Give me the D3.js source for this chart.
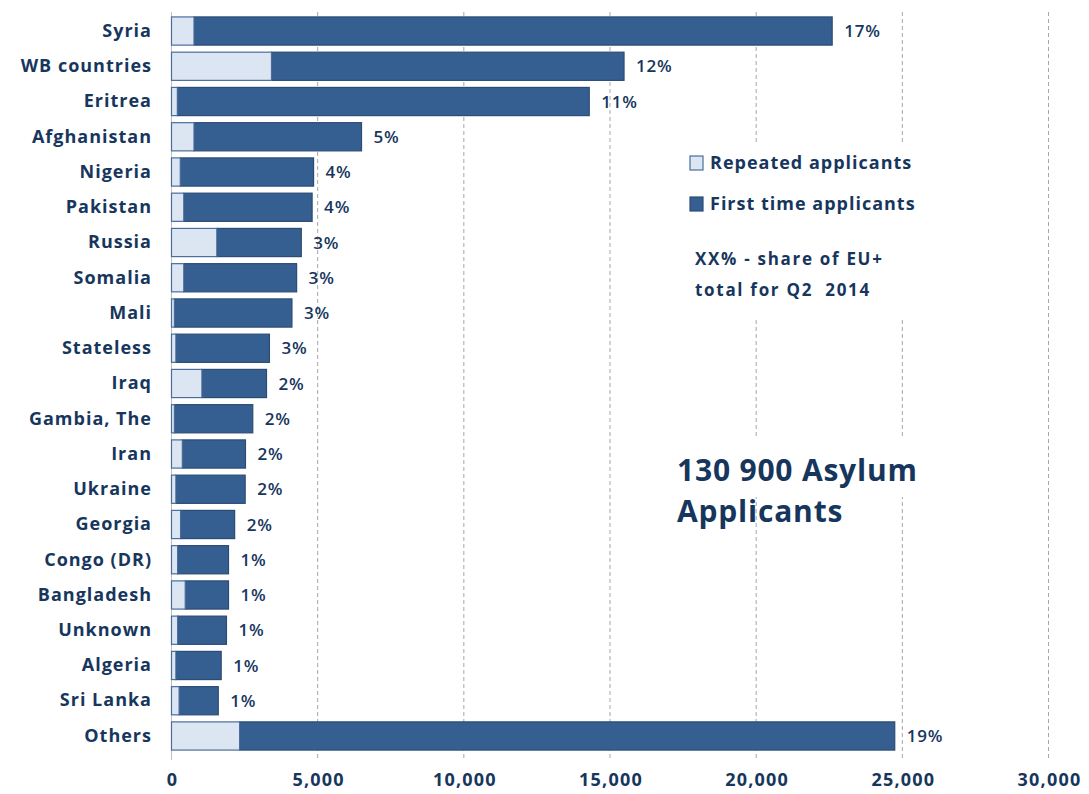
<!DOCTYPE html>
<html>
<head>
<meta charset="utf-8">
<script src="https://cdn.jsdelivr.net/npm/d3@7/dist/d3.min.js"></script>
<style>
  html, body { margin: 0; padding: 0; background: #fff; }
  svg { display: block; }
  text { font-family: "Open Sans", Lato, sans-serif; }
</style>
</head>
<body>
<svg id="chart" width="1089" height="794"></svg>
<script>
// Asylum applicants in EU+, Q2 2014, by country of origin
const categories = ["Syria", "WB countries", "Eritrea", "Afghanistan", "Nigeria", "Pakistan",
  "Russia", "Somalia", "Mali", "Stateless", "Iraq", "Gambia, The", "Iran", "Ukraine",
  "Georgia", "Congo (DR)", "Bangladesh", "Unknown", "Algeria", "Sri Lanka", "Others"];
const repeated = [770, 3420, 200, 770, 300, 420, 1550, 420, 100, 150, 1040, 100, 370, 150,
  310, 210, 470, 210, 150, 260, 2330];
const firstTime = [21830, 12060, 14090, 5730, 4560, 4390, 2890, 3860, 4020, 3200, 2210, 2680,
  2160, 2370, 1850, 1740, 1480, 1670, 1550, 1340, 22410];
const shares = ["17%", "12%", "11%", "5%", "4%", "4%", "3%", "3%", "3%", "3%", "2%", "2%",
  "2%", "2%", "2%", "1%", "1%", "1%", "1%", "1%", "19%"];
const xTicks = [0, 5000, 10000, 15000, 20000, 25000, 30000];
const seriesNames = ["Repeated applicants", "First time applicants"];

const navy = "#17365d";
const darkFill = "#365f91", darkStroke = "#2b4c74";
const lightFill = "#dce6f2", lightStroke = "#4a6d9b";

const svg = d3.select("#chart");

const x = d3.scaleLinear().domain([0, 30000]).range([171.5, 1048.5]);
const y = d3.scaleBand().domain(categories).range([13.4, 753.6])
  .paddingInner(0.2).paddingOuter(0.1);

const gridTop = 12, gridBottom = 760;

// dashed vertical gridlines
svg.append("g").selectAll("line")
  .data(xTicks.slice(1))
  .join("line")
  .attr("x1", d => x(d)).attr("x2", d => x(d))
  .attr("y1", gridTop).attr("y2", gridBottom)
  .attr("stroke", "#a6a6a6").attr("stroke-width", 1)
  .attr("stroke-dasharray", "4,3");

// value axis as bare tick labels
const xAxis = d3.axisBottom(x).tickValues(xTicks).tickFormat(d3.format(",")).tickSize(0).tickPadding(0);
const gx = svg.append("g").attr("transform", `translate(0.5,${786})`).call(xAxis);
gx.select(".domain").remove();
gx.selectAll("text")
  .attr("dy", 0)
  .attr("fill", navy).attr("font-size", 18).attr("font-weight", 700)
  .attr("font-family", "'Open Sans', sans-serif")
  .attr("letter-spacing", 1.2);

// category axis line
svg.append("line")
  .attr("x1", x(0)).attr("x2", x(0))
  .attr("y1", gridTop).attr("y2", gridBottom)
  .attr("stroke", "#bfbfbf").attr("stroke-width", 1);

// white panels behind the legend and the total caption
svg.append("rect").attr("x", 672).attr("y", 143).attr("width", 255).attr("height", 176).attr("fill", "#fff");
svg.append("rect").attr("x", 668).attr("y", 437).attr("width", 258).attr("height", 60).attr("fill", "#fff");

// stacked bars
const rows = categories.map((c, i) => ({ c, rep: repeated[i], first: firstTime[i], share: shares[i] }));
const bars = svg.append("g");
bars.selectAll("rect.first")
  .data(rows).join("rect").attr("class", "first")
  .attr("x", d => x(d.rep)).attr("y", d => y(d.c))
  .attr("width", d => x(d.rep + d.first) - x(d.rep)).attr("height", y.bandwidth())
  .attr("fill", darkFill).attr("stroke", darkStroke).attr("stroke-width", 1.2);
bars.selectAll("rect.rep")
  .data(rows).join("rect").attr("class", "rep")
  .attr("x", d => x(0)).attr("y", d => y(d.c))
  .attr("width", d => x(d.rep) - x(0)).attr("height", y.bandwidth())
  .attr("fill", lightFill).attr("stroke", lightStroke).attr("stroke-width", 1.2);

// share labels at bar ends
svg.append("g").selectAll("text")
  .data(rows).join("text")
  .attr("x", d => x(d.rep + d.first) + 12)
  .attr("y", d => y(d.c) + y.bandwidth() / 2)
  .attr("dy", "0.36em")
  .attr("fill", navy).attr("font-size", 17).attr("font-weight", 600)
  .attr("letter-spacing", 0.8)
  .text(d => d.share);

// category labels
const yAxis = d3.axisLeft(y).tickSize(0).tickPadding(0);
const gy = svg.append("g").attr("transform", `translate(152,0)`).call(yAxis);
gy.select(".domain").remove();
gy.selectAll("text")
  .attr("fill", navy).attr("font-size", 18).attr("font-weight", 700)
  .attr("font-family", "'Open Sans', sans-serif")
  .attr("letter-spacing", 1);

// legend
const legend = svg.append("g");
const legendItems = [
  { name: seriesNames[0], fill: lightFill, stroke: lightStroke, cy: 163 },
  { name: seriesNames[1], fill: darkFill, stroke: darkStroke, cy: 204 }
];
legend.selectAll("rect").data(legendItems).join("rect")
  .attr("x", 690).attr("y", d => d.cy - 7).attr("width", 13).attr("height", 14)
  .attr("fill", d => d.fill).attr("stroke", d => d.stroke).attr("stroke-width", 1.2);
legend.selectAll("text").data(legendItems).join("text")
  .attr("x", 710).attr("y", d => d.cy).attr("dy", "0.36em")
  .attr("fill", navy).attr("font-size", 18).attr("font-weight", 700)
  .attr("letter-spacing", 1)
  .text(d => d.name);

// note on the share labels
const note = svg.append("text").attr("fill", navy).attr("font-size", 17).attr("font-weight", 700)
  .attr("letter-spacing", 1.7);
note.append("tspan").attr("x", 695).attr("y", 265).text("XX% - share of EU+");
note.append("tspan").attr("x", 695).attr("y", 296).text("total for Q2\u00a0 2014");

// total caption
const total = svg.append("text").attr("fill", navy).attr("font-size", 30).attr("font-weight", 700)
  .attr("font-family", "Lato, sans-serif").attr("letter-spacing", 0.8);
total.append("tspan").attr("x", 677).attr("y", 481).text("130 900 Asylum");
total.append("tspan").attr("x", 677).attr("y", 522).text("Applicants");
</script>
</body>
</html>
